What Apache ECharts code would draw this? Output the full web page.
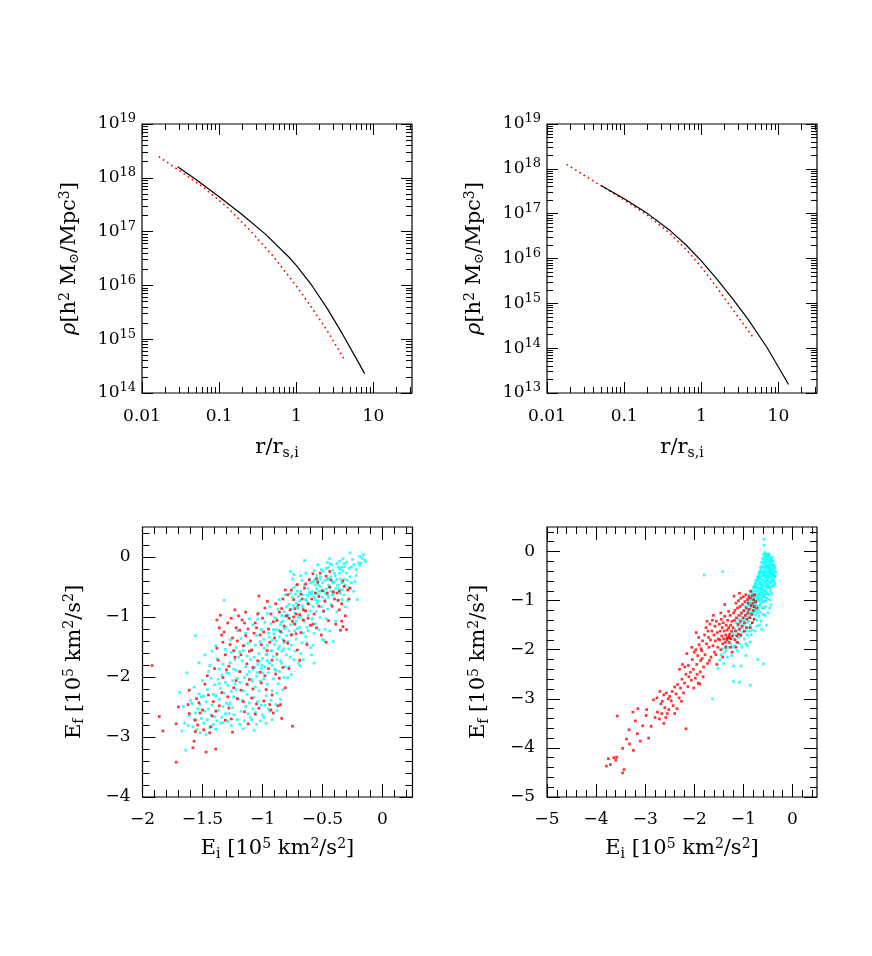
<!DOCTYPE html>
<html>
<head>
<meta charset="utf-8">
<script src="https://cdn.jsdelivr.net/npm/echarts@6.0.0/dist/echarts.min.js"></script>
<style>
  html, body { margin: 0; padding: 0; background: #fff; }
  #main { width: 872px; height: 956px; }
</style>
</head>
<body>
<div id="main"></div>
<script>
// ---- density profiles (r / r_s,i , rho in h^2 Msun / Mpc^3) ----
const tlBlackR   = [0.029, 0.0501, 0.1, 0.1995, 0.398, 0.794, 1.0, 1.585, 2.512, 3.981, 6.31, 7.69];
const tlBlackRho = [1.61e18, 9.33e17, 4.46e17, 2.06e17, 8.97e16, 3.41e16, 2.36e16, 1.007e16, 3.74e15, 1.24e15, 3.83e14, 2.29e14];
const tlRedR     = [0.01652, 0.0316, 0.0631, 0.1259, 0.2512, 0.5012, 1.0, 1.585, 2.512, 4.3];
const tlRedRho   = [2.47e18, 1.315e18, 6.59e17, 2.88e17, 1.057e17, 3.5e16, 9.75e15, 3.88e15, 1.44e15, 3.98e14];

const trBlackR   = [0.0502, 0.1, 0.1995, 0.398, 0.631, 1.0, 1.585, 2.512, 3.981, 7.079, 13.55];
const trBlackRho = [4.24e17, 2.14e17, 1.016e17, 4.14e16, 2.03e16, 8.85e15, 3.52e15, 1.31e15, 4.54e14, 1.047e14, 1.55e13];
const trRedR     = [0.01795, 0.0463, 0.1, 0.1995, 0.398, 0.631, 1.0, 1.585, 2.512, 4.6];
const trRedRho   = [1.26e18, 4.57e17, 2.04e17, 9.33e16, 3.55e16, 1.62e16, 6.46e15, 2.29e15, 7.59e14, 1.82e14];

// ---- energies, bottom left: [E_i, E_f] in 1e5 km^2/s^2 ----
const blCyan = [
[-1.64,-3.22],[-1.69,-2.26],[-1.63,-1.93],[-1.62,-2.81],[-1.61,-2.64],[-1.66,-2.49],[-1.60,-2.39],[-1.65,-2.77],[-1.67,-2.90],
[-1.58,-2.83],[-1.57,-2.71],[-1.56,-2.60],[-1.55,-2.88],[-1.54,-2.53],[-1.53,-2.28],[-1.52,-2.46],[-1.51,-2.69],[-1.56,-1.31],[-1.59,-2.44],[-1.53,-1.76],[-1.50,-2.06],[-1.52,-2.93],[-1.57,-2.17],[-1.51,-2.33],
[-1.49,-2.77],[-1.48,-2.57],[-1.47,-2.41],[-1.46,-2.21],[-1.45,-1.91],[-1.44,-2.84],[-1.43,-2.63],[-1.42,-2.47],[-1.41,-2.29],[-1.40,-2.13],[-1.48,-1.63],[-1.46,-2.71],[-1.44,-1.81],[-1.43,-2.02],[-1.41,-2.79],[-1.47,-2.96],[-1.42,-1.57],[-1.45,-2.53],[-1.49,-2.32],[-1.40,-2.66],
[-1.39,-2.87],[-1.38,-2.73],[-1.37,-2.56],[-1.36,-2.37],[-1.35,-2.19],[-1.34,-1.97],[-1.33,-1.79],[-1.32,-0.72],[-1.31,-2.61],[-1.30,-2.44],[-1.39,-2.31],[-1.37,-2.04],[-1.36,-1.87],[-1.35,-2.77],[-1.33,-2.49],[-1.32,-2.27],[-1.31,-1.54],[-1.38,-1.69],[-1.34,-2.67],[-1.30,-1.93],[-1.36,-2.11],[-1.33,-2.76],[-1.39,-1.48],[-1.31,-2.09],
[-1.29,-2.74],[-1.28,-2.61],[-1.27,-2.43],[-1.26,-2.24],[-1.25,-2.06],[-1.24,-1.87],[-1.23,-1.71],[-1.22,-1.51],[-1.21,-2.71],[-1.20,-2.37],[-1.29,-2.14],[-1.28,-1.94],[-1.27,-1.76],[-1.26,-2.81],[-1.25,-2.51],[-1.24,-2.33],[-1.23,-2.11],[-1.22,-1.89],[-1.21,-1.23],[-1.20,-1.67],[-1.28,-2.47],[-1.26,-1.59],[-1.24,-2.63],[-1.22,-2.21],[-1.27,-1.38],[-1.21,-2.02],
[-1.19,-2.79],[-1.18,-2.57],[-1.17,-2.39],[-1.16,-2.23],[-1.15,-2.01],[-1.14,-1.83],[-1.13,-1.65],[-1.12,-1.44],[-1.11,-1.03],[-1.10,-2.67],[-1.19,-2.09],[-1.18,-1.91],[-1.17,-1.73],[-1.16,-1.56],[-1.15,-2.73],[-1.14,-2.49],[-1.13,-2.29],[-1.12,-2.13],[-1.11,-1.91],[-1.10,-1.71],[-1.18,-1.36],[-1.16,-2.86],[-1.14,-1.27],[-1.12,-2.61],[-1.11,-2.43],[-1.15,-1.47],[-1.19,-1.58],[-1.13,-1.96],
[-1.09,-2.71],[-1.08,-2.53],[-1.07,-2.34],[-1.06,-2.17],[-1.05,-1.99],[-1.04,-1.79],[-1.03,-1.61],[-1.02,-1.41],[-1.01,-1.21],[-1.00,-2.63],[-1.09,-2.04],[-1.08,-1.87],[-1.07,-1.67],[-1.06,-1.47],[-1.05,-2.79],[-1.04,-2.41],[-1.03,-2.23],[-1.02,-2.07],[-1.01,-1.86],[-1.00,-1.69],[-1.08,-1.13],[-1.06,-2.59],[-1.04,-1.04],[-1.02,-2.73],[-1.01,-2.47],[-1.05,-1.31],[-1.03,-0.93],[-1.07,-2.89],[-1.09,-1.56],[-1.00,-1.93],
[-0.99,-2.67],[-0.98,-2.47],[-0.97,-2.31],[-0.96,-2.12],[-0.95,-1.93],[-0.94,-1.77],[-0.93,-1.57],[-0.92,-1.39],[-0.91,-1.21],[-0.90,-1.01],[-0.99,-2.03],[-0.98,-1.83],[-0.97,-1.63],[-0.96,-1.47],[-0.95,-1.27],[-0.94,-2.57],[-0.93,-2.39],[-0.92,-2.23],[-0.91,-2.03],[-0.90,-1.87],[-0.98,-1.09],[-0.96,-0.94],[-0.94,-0.83],[-0.92,-2.71],[-0.91,-1.66],[-0.99,-1.37],[-0.97,-2.77],[-0.93,-1.11],[-0.95,-2.53],[-0.90,-1.46],[-0.96,-1.73],[-0.92,-1.81],
[-0.89,-2.46],[-0.88,-2.27],[-0.87,-2.11],[-0.86,-1.91],[-0.85,-1.73],[-0.84,-1.57],[-0.83,-1.37],[-0.82,-1.19],[-0.81,-0.99],[-0.80,-0.83],[-0.89,-1.89],[-0.88,-1.71],[-0.87,-1.53],[-0.86,-1.33],[-0.85,-1.13],[-0.84,-0.97],[-0.83,-2.21],[-0.82,-2.01],[-0.81,-1.83],[-0.80,-1.63],[-0.89,-1.21],[-0.88,-1.03],[-0.87,-0.87],[-0.86,-0.71],[-0.85,-2.37],[-0.84,-1.26],[-0.83,-1.07],[-0.82,-0.91],[-0.81,-0.63],[-0.88,-2.56],[-0.86,-1.49],[-0.80,-1.31],[-0.84,-1.77],[-0.82,-1.43],
[-0.79,-2.01],[-0.78,-1.83],[-0.77,-1.67],[-0.76,-1.47],[-0.75,-1.29],[-0.74,-1.11],[-0.73,-0.93],[-0.72,-0.77],[-0.71,-0.57],[-0.70,-1.77],[-0.79,-1.41],[-0.78,-1.23],[-0.77,-1.03],[-0.76,-0.87],[-0.75,-0.67],[-0.74,-0.51],[-0.73,-1.57],[-0.72,-1.37],[-0.71,-1.19],[-0.70,-1.01],[-0.79,-0.97],[-0.78,-0.79],[-0.77,-0.61],[-0.76,-1.96],[-0.75,-0.37],[-0.74,-1.71],[-0.73,-1.23],[-0.72,-1.07],[-0.71,-0.83],[-0.70,-0.66],[-0.77,-0.24],[-0.74,-0.29],[-0.78,-1.53],[-0.72,-0.47],
[-0.69,-1.81],[-0.68,-1.61],[-0.67,-1.43],[-0.66,-1.27],[-0.65,-1.07],[-0.64,-0.89],[-0.63,-0.73],[-0.62,-0.53],[-0.61,-0.37],[-0.60,-1.51],[-0.69,-1.17],[-0.68,-0.99],[-0.67,-0.81],[-0.66,-0.63],[-0.65,-0.06],[-0.64,-1.33],[-0.63,-1.17],[-0.62,-0.97],[-0.61,-0.79],[-0.60,-0.61],[-0.69,-0.73],[-0.68,-0.57],[-0.67,-0.39],[-0.66,-1.71],[-0.65,-0.47],[-0.64,-0.27],[-0.63,-1.43],[-0.62,-0.77],[-0.61,-0.59],[-0.60,-0.43],[-0.68,-0.31],[-0.62,-1.23],
[-0.59,-1.63],[-0.58,-1.47],[-0.57,-1.27],[-0.56,-1.11],[-0.55,-0.91],[-0.54,-0.73],[-0.53,-0.57],[-0.52,-0.37],[-0.51,-0.21],[-0.50,-1.37],[-0.59,-1.03],[-0.58,-0.83],[-0.57,-0.67],[-0.56,-0.47],[-0.55,-0.31],[-0.54,-0.13],[-0.53,-1.21],[-0.52,-1.01],[-0.51,-0.83],[-0.50,-0.67],[-0.59,-0.61],[-0.58,-0.41],[-0.57,-0.23],[-0.56,-0.71],[-0.55,-0.53],[-0.54,-0.41],[-0.53,-0.63],[-0.52,-0.49],[-0.51,-0.57],[-0.50,-0.43],[-0.57,-1.77],[-0.55,-0.61],
[-0.49,-1.39],[-0.48,-1.21],[-0.47,-1.03],[-0.46,-0.87],[-0.45,-0.67],[-0.44,-0.51],[-0.43,-0.33],[-0.42,-0.13],[-0.41,-0.61],[-0.40,-0.41],[-0.49,-0.91],[-0.48,-0.71],[-0.47,-0.53],[-0.46,-0.37],[-0.45,-0.17],[-0.44,-0.03],[-0.43,-0.79],[-0.42,-0.63],[-0.41,-0.43],[-0.40,-0.27],[-0.49,-0.57],[-0.48,-0.39],[-0.47,-0.19],[-0.46,-0.63],[-0.45,-0.47],[-0.44,-1.23],[-0.43,-0.57],[-0.42,-0.41],[-0.41,-1.41],[-0.46,-0.09],
[-0.39,-1.07],[-0.38,-0.91],[-0.37,-0.73],[-0.36,-0.53],[-0.35,-0.37],[-0.34,-0.17],[-0.33,-0.03],[-0.32,-0.63],[-0.31,-0.47],[-0.30,-0.27],[-0.39,-0.53],[-0.38,-0.37],[-0.37,-0.17],[-0.36,-0.07],[-0.35,-0.61],[-0.34,-0.43],[-0.33,-0.23],[-0.32,-0.11],[-0.31,-0.83],[-0.30,-0.09],[-0.38,-0.11],[-0.36,-0.27],[-0.34,-0.71],[-0.32,-0.37],
[-0.29,-0.73],[-0.28,-0.51],[-0.27,-0.33],[-0.26,-0.17],[-0.25,-0.04],[-0.24,-0.57],[-0.23,-0.41],[-0.22,-0.21],[-0.21,-0.71],[-0.20,-0.10],[-0.28,-0.19],[-0.26,-0.43],[-0.24,-0.13],[-0.22,-0.31],[-0.27,0.07],
[-0.19,0.01],[-0.17,-0.02],[-0.15,-0.05],[-0.18,-0.10],[-0.16,0.04],[-0.14,-0.08],[-0.19,-0.14],
[-0.665,-0.84],[-0.645,-0.71],[-0.625,-0.64],[-0.605,-0.90],[-0.585,-0.57],[-0.565,-0.38],[-0.545,-0.77],[-0.535,-0.46],[-0.515,-0.33],[-0.495,-0.24],[-0.475,-0.61],[-0.455,-0.36],[-0.435,-0.12],[-0.415,-0.22],[-0.395,-0.31],[-0.375,-0.47],[-0.355,-0.21],[-0.335,-0.55],[-0.315,-0.16],[-0.295,-0.39],
[-0.705,-0.86],[-0.725,-0.62],[-0.745,-0.81],[-0.765,-1.13],[-0.785,-0.97],[-0.805,-1.17],[-0.825,-1.53],[-0.845,-1.09],[-0.865,-1.22],[-0.885,-1.40],[-0.905,-1.28],[-0.925,-1.56],[-0.945,-1.34],[-0.965,-1.62],[-0.985,-1.52],[-1.005,-1.81],[-1.025,-1.74],[-1.045,-1.93],[-1.065,-1.84],[-1.085,-2.07]
];
const blRed = [
[-1.92,-1.81],[-1.86,-2.66],[-1.83,-2.90],[-1.72,-3.42],[-1.72,-2.78],[-1.70,-2.50],[-1.62,-2.46],[-1.61,-2.22],[-1.61,-2.61],[-1.57,-3.07],[-1.58,-3.18],[-1.56,-2.72],[-1.56,-2.91],[-1.47,-3.25],[-1.44,-2.93],[-1.39,-3.20],[-1.55,-2.36],[-1.53,-2.43],[-1.50,-2.55],[-1.52,-2.60],[-1.48,-2.12],[-1.46,-1.98],[-1.43,-2.83],[-1.42,-2.65],[-1.41,-2.41],[-1.54,-2.80],[-1.49,-2.88],[-1.45,-2.30],[-1.40,-1.86],[-1.38,-1.05],
[-1.38,-1.52],[-1.37,-1.72],[-1.36,-2.48],[-1.35,-0.97],[-1.34,-1.30],[-1.33,-2.01],[-1.32,-1.25],[-1.31,-2.72],[-1.30,-1.88],[-1.36,-1.18],[-1.34,-2.26],[-1.31,-1.63],[-1.39,-2.57],[-1.33,-1.42],
[-1.29,-1.10],[-1.28,-2.52],[-1.27,-1.46],[-1.26,-1.02],[-1.25,-1.35],[-1.24,-2.18],[-1.23,-1.67],[-1.22,-1.18],[-1.21,-2.36],[-1.20,-0.98],[-1.28,-1.82],[-1.26,-2.70],[-1.24,-1.56],[-1.22,-2.06],[-1.21,-1.40],[-1.29,-2.33],[-1.25,-2.92],[-1.23,-0.88],
[-1.19,-1.22],[-1.18,-2.22],[-1.17,-1.05],[-1.16,-1.48],[-1.15,-2.58],[-1.14,-0.92],[-1.13,-1.78],[-1.12,-1.20],[-1.11,-2.04],[-1.10,-1.40],[-1.18,-1.63],[-1.16,-2.41],[-1.14,-1.31],[-1.12,-2.78],[-1.11,-1.57],[-1.19,-1.91],[-1.15,-1.10],[-1.13,-2.12],
[-1.09,-1.55],[-1.08,-2.20],[-1.07,-1.27],[-1.06,-1.10],[-1.05,-2.45],[-1.04,-1.73],[-1.03,-0.65],[-1.02,-1.30],[-1.01,-2.10],[-1.00,-1.02],[-1.08,-1.84],[-1.06,-2.62],[-1.04,-0.95],[-1.02,-1.92],[-1.01,-1.46],[-1.09,-2.35],[-1.05,-1.18],[-1.03,-2.52],
[-0.99,-1.25],[-0.98,-0.85],[-0.97,-2.21],[-0.96,-1.56],[-0.95,-1.20],[-0.94,-2.46],[-0.93,-0.95],[-0.92,-1.72],[-0.91,-2.60],[-0.90,-1.35],[-0.98,-1.98],[-0.96,-0.74],[-0.94,-1.42],[-0.92,-2.30],[-0.91,-1.08],[-0.99,-2.40],[-0.95,-1.86],[-0.93,-2.55],
[-0.89,-0.78],[-0.88,-1.06],[-0.87,-2.48],[-0.86,-0.92],[-0.85,-1.24],[-0.84,-2.69],[-0.83,-0.70],[-0.82,-1.40],[-0.81,-2.18],[-0.80,-0.98],[-0.88,-1.62],[-0.86,-2.02],[-0.84,-0.86],[-0.82,-1.15],[-0.81,-0.55],[-0.89,-1.95],[-0.85,-2.46],[-0.83,-1.84],
[-0.79,-0.63],[-0.78,-1.02],[-0.77,-0.88],[-0.76,-1.30],[-0.75,-2.82],[-0.74,-0.71],[-0.73,-1.12],[-0.72,-0.95],[-0.71,-1.55],[-0.70,-0.80],[-0.78,-1.86],[-0.76,-0.55],[-0.74,-1.00],[-0.72,-1.28],[-0.71,-0.46],[-0.79,-1.44],[-0.75,-1.07],[-0.73,-0.86],
[-0.69,-0.96],[-0.68,-1.26],[-0.67,-0.70],[-0.66,-1.05],[-0.65,-0.52],[-0.64,-0.90],[-0.63,-1.46],[-0.62,-0.78],[-0.61,-0.38],[-0.60,-1.14],[-0.68,-0.62],[-0.66,-0.88],[-0.64,-0.45],[-0.62,-1.02],[-0.69,-1.72],
[-0.59,-0.70],[-0.58,-0.28],[-0.57,-0.95],[-0.56,-0.60],[-0.55,-1.18],[-0.54,-0.42],[-0.53,-0.82],[-0.52,-0.27],[-0.51,-1.30],[-0.50,-0.56],[-0.58,-1.12],[-0.55,-0.36],[-0.53,-0.66],
[-0.49,-0.90],[-0.48,-0.74],[-0.47,-0.32],[-0.46,-0.60],[-0.45,-1.06],[-0.44,-0.24],[-0.43,-0.38],[-0.42,-0.82],[-0.41,-0.58],[-0.40,-0.70],[-0.47,-1.42],[-0.44,-0.50],
[-0.39,-1.12],[-0.38,-0.60],[-0.37,-0.72],[-0.36,-0.57],[-0.35,-1.22],[-0.34,-0.78],[-0.33,-1.16],[-0.32,-0.49],[-0.31,-0.98],[-0.30,-1.21],[-0.36,-0.88],[-0.34,-1.07],[-0.33,-0.40],
[-0.29,-0.55],[-0.27,-0.52],[-0.28,-0.70]
];

// ---- energies, bottom right ----
const brCyan = [
[-1.80,-0.48],[-1.42,-0.41],[-1.63,-3.00],[-1.20,-2.65],[-1.08,-2.66],[-0.86,-2.72],[-0.71,-2.20],[-0.59,-2.29],[-1.20,-2.33],[-1.05,-2.33],[-1.52,-2.38],[-0.95,-2.12],[-1.35,-2.00],
[-1.48,-2.21],[-1.45,-2.10],[-1.42,-1.98],[-1.38,-2.05],[-1.35,-1.92],[-1.32,-1.80],[-1.30,-1.95],[-1.28,-1.72],[-1.26,-1.88],[-1.24,-2.12],[-1.22,-1.66],[-1.21,-1.95],[-1.40,-2.28],[-1.33,-2.15],
[-1.19,-1.78],[-1.18,-1.58],[-1.17,-1.92],[-1.16,-1.70],[-1.15,-1.45],[-1.14,-1.85],[-1.13,-1.62],[-1.12,-2.02],[-1.11,-1.52],[-1.10,-1.75],[-1.09,-1.38],[-1.08,-1.88],[-1.07,-1.60],[-1.06,-1.46],[-1.05,-1.72],[-1.04,-1.30],[-1.03,-1.95],[-1.02,-1.55],[-1.01,-1.64],[-1.00,-1.40],
[-0.99,-1.22],[-0.985,-1.50],[-0.98,-1.78],[-0.97,-1.35],[-0.96,-1.12],[-0.95,-1.62],[-0.95,-1.88],[-0.94,-1.28],[-0.93,-1.45],[-0.93,-1.05],[-0.92,-1.70],[-0.91,-1.20],[-0.91,-1.55],[-0.90,-0.98],[-0.90,-1.35],[-0.92,-1.92],
[-0.89,-1.10],[-0.89,-1.42],[-0.88,-0.88],[-0.88,-1.62],[-0.87,-1.25],[-0.87,-1.02],[-0.86,-1.50],[-0.86,-0.80],[-0.85,-1.15],[-0.85,-1.35],[-0.84,-0.94],[-0.84,-1.70],[-0.83,-1.08],[-0.83,-0.82],[-0.82,-1.28],[-0.82,-0.98],[-0.81,-0.86],[-0.81,-1.45],[-0.80,-1.12],[-0.80,-0.74],[-0.86,-1.84],[-0.82,-1.60],
[-0.79,-0.95],[-0.79,-1.22],[-0.79,-0.80],[-0.78,-1.05],[-0.78,-0.70],[-0.78,-1.38],[-0.77,-0.88],[-0.77,-1.15],[-0.77,-0.72],[-0.76,-1.00],[-0.76,-0.64],[-0.76,-1.30],[-0.75,-0.80],[-0.75,-1.08],[-0.75,-0.66],[-0.74,-0.92],[-0.74,-1.20],[-0.74,-0.58],[-0.73,-0.72],[-0.73,-1.02],[-0.73,-1.52],[-0.72,-0.60],[-0.72,-0.86],[-0.72,-1.25],[-0.71,-0.52],[-0.71,-0.68],[-0.71,-0.97],[-0.70,-0.55],[-0.70,-0.80],[-0.70,-1.12],[-0.76,-1.62],[-0.72,-1.40],
[-0.69,-0.50],[-0.69,-0.62],[-0.69,-0.90],[-0.69,-1.18],[-0.68,-0.45],[-0.68,-0.74],[-0.68,-1.00],[-0.68,-1.32],[-0.67,-0.42],[-0.67,-0.56],[-0.67,-0.84],[-0.67,-1.10],[-0.66,-0.40],[-0.66,-0.66],[-0.66,-0.94],[-0.66,-1.24],[-0.65,-0.32],[-0.65,-0.50],[-0.65,-0.78],[-0.65,-1.05],[-0.64,-0.35],[-0.64,-0.62],[-0.64,-0.88],[-0.64,-1.42],[-0.63,-0.22],[-0.63,-0.44],[-0.63,-0.72],[-0.63,-0.98],[-0.62,-0.30],[-0.62,-0.56],[-0.62,-0.82],[-0.62,-1.15],[-0.61,-0.14],[-0.61,-0.40],[-0.61,-0.66],[-0.61,-0.92],[-0.60,-0.24],[-0.60,-0.50],[-0.60,-0.76],[-0.60,-1.28],[-0.67,-1.50],[-0.63,-1.58],
[-0.59,-0.06],[-0.59,-0.32],[-0.59,-0.58],[-0.59,-0.86],[-0.58,0.25],[-0.58,0.13],[-0.58,-0.18],[-0.58,-0.44],[-0.58,-0.70],[-0.58,-1.02],[-0.57,-0.10],[-0.57,-0.36],[-0.57,-0.62],[-0.57,-0.90],[-0.56,-0.02],[-0.56,-0.26],[-0.56,-0.50],[-0.56,-0.78],[-0.55,-0.14],[-0.55,-0.40],[-0.55,-0.64],[-0.55,-1.12],[-0.54,-0.06],[-0.54,-0.30],[-0.54,-0.54],[-0.54,-0.82],[-0.53,-0.18],[-0.53,-0.42],[-0.53,-0.68],[-0.52,-0.10],[-0.52,-0.34],[-0.52,-0.58],[-0.52,-0.95],[-0.51,-0.22],[-0.51,-0.46],[-0.51,-0.74],[-0.50,-0.05],[-0.50,-0.28],[-0.50,-0.52],[-0.50,-1.25],[-0.56,-1.30],[-0.53,-1.50],
[-0.49,-0.16],[-0.49,-0.40],[-0.49,-0.66],[-0.48,-0.08],[-0.48,-0.30],[-0.48,-0.56],[-0.48,-0.88],[-0.47,-0.20],[-0.47,-0.44],[-0.47,-0.72],[-0.46,-0.12],[-0.46,-0.34],[-0.46,-0.60],[-0.45,-0.24],[-0.45,-0.48],[-0.45,-0.80],[-0.44,-0.16],[-0.44,-0.38],[-0.44,-0.64],[-0.43,-0.28],[-0.43,-0.52],[-0.42,-0.20],[-0.42,-0.44],[-0.42,-0.70],[-0.41,-0.32],[-0.41,-0.56],[-0.40,-0.26],[-0.40,-0.46],[-0.46,-1.15],[-0.44,-1.08],
[-0.39,-0.36],[-0.39,-0.58],[-0.38,-0.28],[-0.38,-0.48],[-0.37,-0.40],[-0.37,-0.62],[-0.36,-0.34],[-0.35,-0.50],[-0.34,-0.42],
[-0.575,-0.48],[-0.555,-0.22],[-0.535,-0.30],[-0.515,-0.10],[-0.495,-0.28],[-0.475,-0.06],[-0.455,-0.38],[-0.435,-0.18],[-0.415,-0.44],[-0.395,-0.20],[-0.375,-0.30],[-0.365,-0.52],[-0.355,-0.66],[-0.385,-0.70],[-0.405,-0.60],[-0.425,-0.85],[-0.445,-0.74],[-0.465,-0.98],[-0.485,-0.72],[-0.505,-0.86],[-0.525,-0.72],[-0.545,-1.00],[-0.565,-0.92],[-0.585,-1.15],[-0.605,-1.02],[-0.625,-0.68],[-0.645,-0.76],[-0.665,-0.52],[-0.685,-0.88],[-0.705,-0.96],[-0.725,-0.74],[-0.745,-1.06],[-0.765,-0.92],[-0.785,-1.22],[-0.805,-0.98],[-0.825,-1.12],[-0.845,-1.24],[-0.865,-1.08],[-0.885,-1.30],[-0.905,-1.18],[-0.575,-0.80],[-0.555,-0.50],[-0.535,-0.86],[-0.515,-0.60],[-0.495,-0.50],[-0.475,-0.34],[-0.455,-0.62],[-0.435,-0.40],[-0.415,-0.12],[-0.595,-0.44]
];
const brRed = [
[-3.79,-4.37],[-3.75,-4.22],[-3.71,-4.34],[-3.64,-4.20],[-3.58,-4.19],[-3.60,-4.25],[-3.46,-4.51],[-3.43,-4.44],[-3.46,-4.01],[-3.57,-3.35],[-3.33,-3.63],[-3.25,-3.27],[-3.24,-4.05],[-3.32,-3.92],[-3.16,-3.71],[-3.15,-3.20],[-3.05,-3.55],[-2.98,-3.34],[-2.97,-3.22],[-2.93,-3.80],[-2.88,-3.56],[-3.10,-3.86],[-3.20,-3.45],[-3.38,-3.82],
[-2.76,-2.98],[-2.75,-3.27],[-2.71,-3.41],[-2.68,-3.10],[-2.65,-3.05],[-2.62,-2.92],[-2.60,-3.18],[-2.57,-2.88],[-2.55,-3.30],[-2.53,-3.00],[-2.58,-3.38],[-2.52,-3.22],[-2.83,-3.02],[-2.80,-3.38],[-2.70,-2.85],[-2.62,-3.50],[-2.66,-3.30],[-2.50,-2.95],
[-2.47,-3.04],[-2.43,-3.14],[-2.40,-2.76],[-2.37,-2.90],[-2.34,-2.71],[-2.31,-2.98],[-2.28,-2.78],[-2.25,-2.60],[-2.22,-2.88],[-2.20,-2.68],[-2.17,-3.61],[-2.17,-2.50],[-2.15,-2.08],[-2.13,-2.75],[-2.11,-2.55],[-2.45,-2.85],[-2.35,-3.20],[-2.30,-2.40],[-2.26,-3.05],[-2.19,-2.35],[-2.24,-2.30],[-2.12,-2.32],[-2.40,-3.30],
[-2.08,-2.46],[-2.06,-2.62],[-2.04,-2.20],[-2.02,-2.40],[-2.00,-2.05],[-1.98,-2.58],[-1.96,-1.65],[-1.95,-2.30],[-1.93,-2.12],[-1.92,-2.68],[-1.90,-1.90],[-1.88,-2.45],[-1.87,-2.22],[-1.85,-2.02],[-1.83,-1.82],[-1.82,-2.55],[-1.81,-2.35],[-2.05,-1.95],[-2.01,-2.78],[-1.97,-2.00],[-1.94,-2.50],[-1.91,-1.75],[-1.89,-2.70],[-1.86,-1.98],[-1.84,-2.18],
[-1.79,-1.70],[-1.78,-2.10],[-1.76,-1.55],[-1.75,-1.88],[-1.73,-2.28],[-1.72,-1.62],[-1.70,-1.95],[-1.68,-1.48],[-1.67,-1.80],[-1.66,-2.15],[-1.64,-1.62],[-1.63,-1.40],[-1.62,-1.92],[-1.60,-1.70],[-1.59,-2.05],[-1.58,-1.52],[-1.57,-1.82],[-1.55,-1.42],[-1.54,-2.30],[-1.53,-1.65],[-1.52,-1.95],[-1.51,-1.78],[-1.74,-1.42],[-1.69,-2.22],[-1.61,-1.30],[-1.56,-2.10],[-1.71,-1.75],
[-1.49,-1.48],[-1.48,-1.80],[-1.47,-1.62],[-1.46,-2.00],[-1.45,-1.38],[-1.44,-1.72],[-1.43,-1.55],[-1.42,-1.88],[-1.41,-1.45],[-1.40,-1.78],[-1.39,-1.62],[-1.38,-1.32],[-1.37,-1.85],[-1.36,-1.70],[-1.35,-1.50],[-1.34,-1.80],[-1.33,-1.60],[-1.32,-1.40],[-1.31,-1.75],[-1.30,-1.55],[-1.29,-1.85],[-1.28,-1.68],[-1.27,-1.30],[-1.26,-1.50],[-1.25,-1.78],[-1.24,-1.62],[-1.23,-1.42],[-1.22,-1.72],[-1.21,-1.55],[-1.20,-1.25],[-1.46,-1.25],[-1.42,-2.15],[-1.36,-1.95],[-1.30,-1.22],[-1.26,-1.95],[-1.23,-2.05],[-1.38,-1.08],[-1.33,-1.76],[-1.29,-1.73],[-1.27,-1.77],
[-1.19,-0.91],[-1.18,-1.40],[-1.17,-1.20],[-1.16,-1.62],[-1.15,-1.05],[-1.14,-1.35],[-1.13,-1.72],[-1.12,-1.15],[-1.11,-1.48],[-1.10,-1.00],[-1.09,-1.30],[-1.08,-1.58],[-1.07,-1.12],[-1.06,-1.42],[-1.05,-0.95],[-1.04,-1.25],[-1.03,-1.52],[-1.02,-1.08],[-1.01,-1.35],[-1.00,-0.92],[-0.99,-1.20],[-0.98,-1.45],[-0.97,-1.02],[-0.96,-1.30],[-0.95,-0.88],[-0.94,-1.15],[-0.93,-1.38],[-0.92,-0.98],[-0.91,-1.25],[-0.90,-1.05],[-1.12,-1.85],[-1.05,-1.70],[-0.98,-1.62],[-1.15,-1.95],[-1.08,-0.85],[-0.94,-1.55],[-1.17,-1.80],[-1.10,-1.68],
[-0.89,-0.92],[-0.88,-1.18],[-0.87,-1.35],[-0.86,-0.95],[-0.85,-0.81],[-0.84,-1.10],[-0.83,-1.28],[-0.82,-0.90],[-0.81,-1.05],[-0.80,-1.20],[-0.79,-0.98],[-0.78,-1.12],[-0.77,-0.88],[-0.75,-1.02],[-0.73,-1.15],[-0.86,-1.55],[-0.82,-1.45],[-0.78,-1.38]
];

const logXLabels = { '-2': '0.01', '-1': '0.1', '0': '1', '1': '10' };

const FONT = 'DejaVu Serif';
const lg = Math.log10;

let chart = echarts.init(document.getElementById('main'));

function logTicks(min, max) {
  let major = [], minor = [];
  for (let e = Math.floor(min); e <= max; e++) {
    if (e >= min) major.push(e);
    for (let m = 2; m <= 9; m++) {
      let v = e + lg(m);
      if (v > min && v < max) minor.push(v);
    }
  }
  return { major, minor };
}

function linTicks(min, max, majorStep, minorStep) {
  let major = [], minor = [];
  let n = Math.floor((max - min) / minorStep + 1e-6);
  for (let i = 0; i <= n; i++) {
    let v = +(min + i * minorStep).toFixed(4);
    let k = v / majorStep;
    if (Math.abs(k - Math.round(k)) < 1e-6) major.push(v);
    else minor.push(v);
  }
  return { major, minor };
}

const supStyle = { fontFamily: FONT, fontSize: 14, color: '#000', padding: [0, 0, 10, 0] };
const subStyle = { fontFamily: FONT, fontSize: 14, color: '#000', padding: [10, 0, 0, 0] };
const baseStyle = { fontFamily: FONT, fontSize: 21, color: '#000' };

// four axes per side: labelled major, minor, mirrored major, mirrored minor
function axisGroup(dim, gi, o) {
  let pos = dim === 'x' ? ['bottom', 'top'] : ['left', 'right'];
  let tick = (vals, len) => ({
    show: true, inside: true, length: len, customValues: vals,
    lineStyle: { color: '#000', width: 1 }
  });
  let common = {
    gridIndex: gi, type: 'value', min: o.min, max: o.max,
    axisLine: { show: false, onZero: false },
    splitLine: { show: false },
    axisLabel: { show: false }
  };
  let first = Object.assign({}, common, {
    position: pos[0],
    axisTick: tick(o.ticks.major, o.big),
    axisLabel: {
      show: true, customValues: o.ticks.major, formatter: o.fmt, margin: o.margin,
      color: '#000', fontFamily: FONT, fontSize: 17,
      rich: {
        m: { fontFamily: FONT, fontSize: 17, color: '#000' },
        e: { fontFamily: FONT, fontSize: 13, color: '#000', padding: [0, 0, 10, 0] }
      }
    },
    name: o.name,
    nameLocation: 'middle',
    nameGap: o.nameGap,
    nameRotate: dim === 'y' ? 90 : 0,
    nameTextStyle: {
      fontFamily: FONT, fontSize: 21, color: '#000',
      rich: {
        a: baseStyle,
        r: Object.assign({}, baseStyle, { fontStyle: 'italic' }),
        p: supStyle,
        s: subStyle,
        o: Object.assign({}, subStyle, { fontSize: 13 })
      }
    }
  });
  return [
    first,
    Object.assign({}, common, { position: pos[0], axisTick: tick(o.ticks.minor, o.small) }),
    Object.assign({}, common, { position: pos[1], axisTick: tick(o.ticks.major, o.big) }),
    Object.assign({}, common, { position: pos[1], axisTick: tick(o.ticks.minor, o.small) })
  ];
}

const fmtLogX = v => logXLabels[String(Math.round(v))] || '';
const fmtLogY = v => '{m|10}{e|' + Math.round(v) + '}';
const fmtLin = v => (v < 0 ? '\u2212' : '') + String(Math.abs(v));

const rhoName = '{r|ρ}{a|[h}{p|2}{a| M}{o|⊙}{a|/Mpc}{p|3}{a|]}';
const rName = '{a|r/r}{s|s,i}';
const efName = '{a|E}{s|f}{a| [10}{p|5}{a| km}{p|2}{a|/s}{p|2}{a|]}';
const eiName = '{a|E}{s|i}{a| [10}{p|5}{a| km}{p|2}{a|/s}{p|2}{a|]}';

const grids = [
  { left: 142, top: 124, width: 270, height: 269 },
  { left: 547, top: 124, width: 270, height: 269 },
  { left: 142.5, top: 527, width: 270, height: 270 },
  { left: 547, top: 527, width: 270, height: 270 }
];

let xAxes = [], yAxes = [];
// top panels
[0, 1].forEach(gi => {
  xAxes = xAxes.concat(axisGroup('x', gi, {
    min: -2, max: 1.5, ticks: logTicks(-2, 1.5), big: 11, small: 6,
    fmt: fmtLogX, margin: 15, name: rName, nameGap: 43
  }));
});
yAxes = yAxes.concat(axisGroup('y', 0, {
  min: 14, max: 19, ticks: logTicks(14, 19), big: 11, small: 6,
  fmt: fmtLogY, margin: 6, name: rhoName, nameGap: 60
}));
yAxes = yAxes.concat(axisGroup('y', 1, {
  min: 13, max: 19, ticks: logTicks(13, 19), big: 11, small: 6,
  fmt: fmtLogY, margin: 6, name: rhoName, nameGap: 60
}));
// bottom panels
xAxes = xAxes.concat(axisGroup('x', 2, {
  min: -2, max: 0.25, ticks: linTicks(-2, 0.25, 0.5, 0.1), big: 13, small: 7,
  fmt: fmtLin, margin: 14, name: eiName, nameGap: 40
}));
yAxes = yAxes.concat(axisGroup('y', 2, {
  min: -4, max: 0.5, ticks: linTicks(-4, 0.5, 1, 0.2), big: 13, small: 7,
  fmt: fmtLin, margin: 12, name: efName, nameGap: 56
}));
xAxes = xAxes.concat(axisGroup('x', 3, {
  min: -5, max: 0.5, ticks: linTicks(-5, 0.5, 1, 0.2), big: 13, small: 7,
  fmt: fmtLin, margin: 14, name: eiName, nameGap: 40
}));
yAxes = yAxes.concat(axisGroup('y', 3, {
  min: -5, max: 0.5, ticks: linTicks(-5, 0.5, 1, 0.2), big: 13, small: 7,
  fmt: fmtLin, margin: 12, name: efName, nameGap: 56
}));

function profile(rs, rhos) {
  return rs.map((r, i) => [lg(r), lg(rhos[i])]);
}

function curve(gi, data, color, dotted) {
  return {
    type: 'line', xAxisIndex: gi * 4, yAxisIndex: gi * 4, data: data,
    showSymbol: false, smooth: false, silent: true,
    lineStyle: dotted ? { color: color, width: 1.6, type: [1.6, 3.4] } : { color: color, width: 1.2 },
    z: 3
  };
}

function dots(gi, data, color) {
  return {
    type: 'scatter', xAxisIndex: gi * 4, yAxisIndex: gi * 4, data: data,
    symbol: 'rect', symbolSize: 2.7, silent: true,
    itemStyle: { color: color }
  };
}

let option = {
  animation: false,
  backgroundColor: '#fff',
  grid: grids.map(g => Object.assign({ show: true, borderColor: '#000', borderWidth: 1.2, backgroundColor: 'transparent' }, g)),
  xAxis: xAxes,
  yAxis: yAxes,
  series: [
    curve(0, profile(tlRedR, tlRedRho), '#ff0000', true),
    curve(0, profile(tlBlackR, tlBlackRho), '#000', false),
    curve(1, profile(trRedR, trRedRho), '#ff0000', true),
    curve(1, profile(trBlackR, trBlackRho), '#000', false),
    dots(2, blCyan, '#00ffff'),
    dots(2, blRed, '#ff0000'),
    dots(3, brCyan, '#00ffff'),
    dots(3, brRed, '#ff0000')
  ]
};

chart.setOption(option);
</script>
</body>
</html>
